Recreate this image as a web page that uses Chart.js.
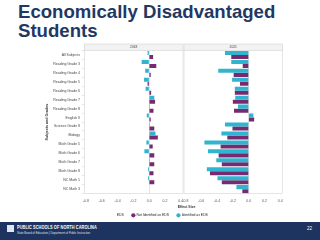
<!DOCTYPE html>
<html>
<head>
<meta charset="utf-8">
<script src="https://cdn.jsdelivr.net/npm/chart.js@4.4.1/dist/chart.umd.min.js"></script>
<style>
  html, body { margin: 0; padding: 0; width: 320px; height: 240px; overflow: hidden; background: #fff; font-family: "Liberation Sans", Arial, sans-serif; }
  #title { position: absolute; left: 18px; top: 2px; font-size: 18.6px; line-height: 19px; font-weight: bold; color: #1f3864; }
  #wrap { position: absolute; left: 0; top: 40px; width: 320px; height: 187px; }
  #footer { position: absolute; left: 0; top: 222px; width: 320px; height: 18px; background: #1d3461; color: #fff; }
  #logo { position: absolute; left: 7px; top: 3px; width: 7px; height: 7px; background: #dfe6f0; }
  #org { position: absolute; left: 17px; top: 2.5px; font-size: 4.6px; font-weight: bold; white-space: nowrap; transform: scaleX(0.84); transform-origin: left top; letter-spacing: 0.1px; }
  #dept { position: absolute; left: 17px; top: 8.5px; font-size: 2.8px; white-space: nowrap; opacity: 0.85; }
  #page { position: absolute; left: 307px; top: 4px; font-size: 4.5px; }
</style>
</head>
<body>
<div id="title">Economically Disadvantaged<br>Students</div>
<div id="wrap"><canvas id="chart"></canvas></div>
<div id="footer">
  <div id="logo"></div>
  <div id="org">PUBLIC SCHOOLS OF NORTH CAROLINA</div>
  <div id="dept">State Board of Education | Department of Public Instruction</div>
  <div id="page">22</div>
</div>
<script>
const subjects = ['All Subjects', 'Reading Grade 3', 'Reading Grade 4', 'Reading Grade 5',
  'Reading Grade 6', 'Reading Grade 7', 'Reading Grade 8', 'English II', 'Science Grade 8',
  'Biology', 'Math Grade 5', 'Math Grade 6', 'Math Grade 7', 'Math Grade 8', 'NC Math 1', 'NC Math 3'];
const years = ['2018', '2021'];
const seriesNames = ['Not Identified as EDS', 'Identified as EDS'];

const identified2018 = [-0.02, -0.095, -0.05, -0.065, -0.045, 0.065, 0.01, -0.03, 0.01, 0.08, -0.035, -0.06, 0.01, -0.015, -0.015, null];
const notIdentified2018 = [0.05, 0.09, 0.02, -0.02, 0.025, 0.075, 0.055, 0.02, 0.065, 0.11, 0.045, 0.065, 0.065, 0.055, 0.065, null];
const identified2021 = [-0.30, -0.22, -0.385, -0.21, -0.175, -0.17, -0.135, 0.06, -0.30, -0.345, -0.56, -0.515, -0.41, -0.53, -0.395, -0.155];
const notIdentified2021 = [-0.22, -0.075, -0.19, -0.11, -0.175, -0.2, -0.185, 0.07, -0.205, -0.27, -0.355, -0.38, -0.34, -0.49, -0.34, -0.08];

const xTicks = [-0.8, -0.6, -0.4, -0.2, 0, 0.2, 0.4];

const cyan = '#30b5d0';
const purple = '#762a6f';

Chart.defaults.font.family = '"Liberation Sans", Arial, sans-serif';
Chart.defaults.color = '#555';

// header strips, panel borders and the shared axis title
const panelFrame = {
  id: 'panelFrame',
  beforeDatasetsDraw(chart) {
    const { ctx, chartArea } = chart;
    const stripTop = chartArea.top - 6.5;
    ctx.save();
    years.forEach((year) => {
      const s = chart.scales['x' + year];
      ctx.fillStyle = '#f2f2f2';
      ctx.fillRect(s.left, stripTop, s.right - s.left, chartArea.top - stripTop);
      ctx.strokeStyle = '#d4d4d4';
      ctx.lineWidth = 0.6;
      ctx.strokeRect(s.left + 0.5, stripTop, s.right - s.left - 1, chartArea.bottom - stripTop);
      ctx.beginPath();
      ctx.moveTo(s.left, chartArea.top);
      ctx.lineTo(s.right, chartArea.top);
      ctx.stroke();
      ctx.fillStyle = '#444';
      ctx.font = '3.3px "Liberation Sans"';
      ctx.textAlign = 'center';
      ctx.textBaseline = 'middle';
      ctx.fillText(year, (s.left + s.right) / 2, (stripTop + chartArea.top) / 2);
    });
    ctx.font = 'bold 3.5px "Liberation Sans"';
    ctx.fillStyle = '#333';
    ctx.textAlign = 'center';
    ctx.textBaseline = 'middle';
    ctx.fillText('Effect Size', (chartArea.left + chartArea.right) / 2 + 3, chartArea.bottom + 13.7);
    ctx.restore();
  }
};

function xAxis() {
  return {
    type: 'linear',
    position: 'bottom',
    stack: 'panels',
    stackWeight: 1,
    stacked: false,
    min: -0.825,
    max: 0.435,
    afterBuildTicks: (scale) => { scale.ticks = xTicks.map(v => ({ value: v })); },
    afterFit: (scale) => { scale.height = 12; },
    ticks: {
      font: { size: 3.5 },
      padding: 5,
      maxRotation: 0,
      autoSkip: false,
      callback: (v) => Number(v).toFixed(1)
    },
    grid: {
      drawTicks: false,
      lineWidth: 0.6,
      color: (c) => (c.tick && c.tick.value === 0 ? '#cfcfcf' : 'rgba(0,0,0,0)')
    },
    border: { display: false }
  };
}

new Chart(document.getElementById('chart'), {
  type: 'bar',
  data: {
    labels: subjects,
    datasets: [
      { label: seriesNames[1], data: identified2018, xAxisID: 'x2018', stack: 'id', backgroundColor: cyan },
      { label: seriesNames[0], data: notIdentified2018, xAxisID: 'x2018', stack: 'not', backgroundColor: purple },
      { label: seriesNames[1], data: identified2021, xAxisID: 'x2021', stack: 'id', backgroundColor: cyan },
      { label: seriesNames[0], data: notIdentified2021, xAxisID: 'x2021', stack: 'not', backgroundColor: purple }
    ]
  },
  options: {
    indexAxis: 'y',
    responsive: true,
    maintainAspectRatio: false,
    animation: false,
    categoryPercentage: 0.9,
    barPercentage: 1,
    layout: { padding: { top: 10.5, right: 37, bottom: 0, left: 37 } },
    scales: {
      x2018: xAxis(),
      x2021: xAxis(),
      y: {
        type: 'category',
        ticks: { font: { size: 3.5 }, color: '#444', padding: 2, autoSkip: false },
        grid: { drawOnChartArea: false, tickLength: 2, lineWidth: 0.5, color: '#cccccc' },
        border: { display: false },
        title: { display: true, text: 'Subjects and Grades', font: { size: 3.7, weight: 'bold' }, color: '#333', padding: { top: 7.5, bottom: 0 } },
        afterFit: (scale) => { scale.width = 47; }
      }
    },
    plugins: {
      tooltip: { enabled: false },
      legend: {
        position: 'bottom',
        labels: {
          font: { size: 3.4 },
          color: '#444',
          usePointStyle: true,
          boxWidth: 3,
          boxHeight: 3,
          padding: 8,
          generateLabels: () => [
            { text: 'EDS', fillStyle: 'rgba(0,0,0,0)', strokeStyle: 'rgba(0,0,0,0)', lineWidth: 0, pointStyle: 'circle', fontColor: '#222' },
            { text: seriesNames[0], fillStyle: purple, strokeStyle: purple, lineWidth: 0, pointStyle: 'circle' },
            { text: seriesNames[1], fillStyle: cyan, strokeStyle: cyan, lineWidth: 0, pointStyle: 'circle' }
          ]
        }
      }
    }
  },
  plugins: [panelFrame]
});
</script>
</body>
</html>
